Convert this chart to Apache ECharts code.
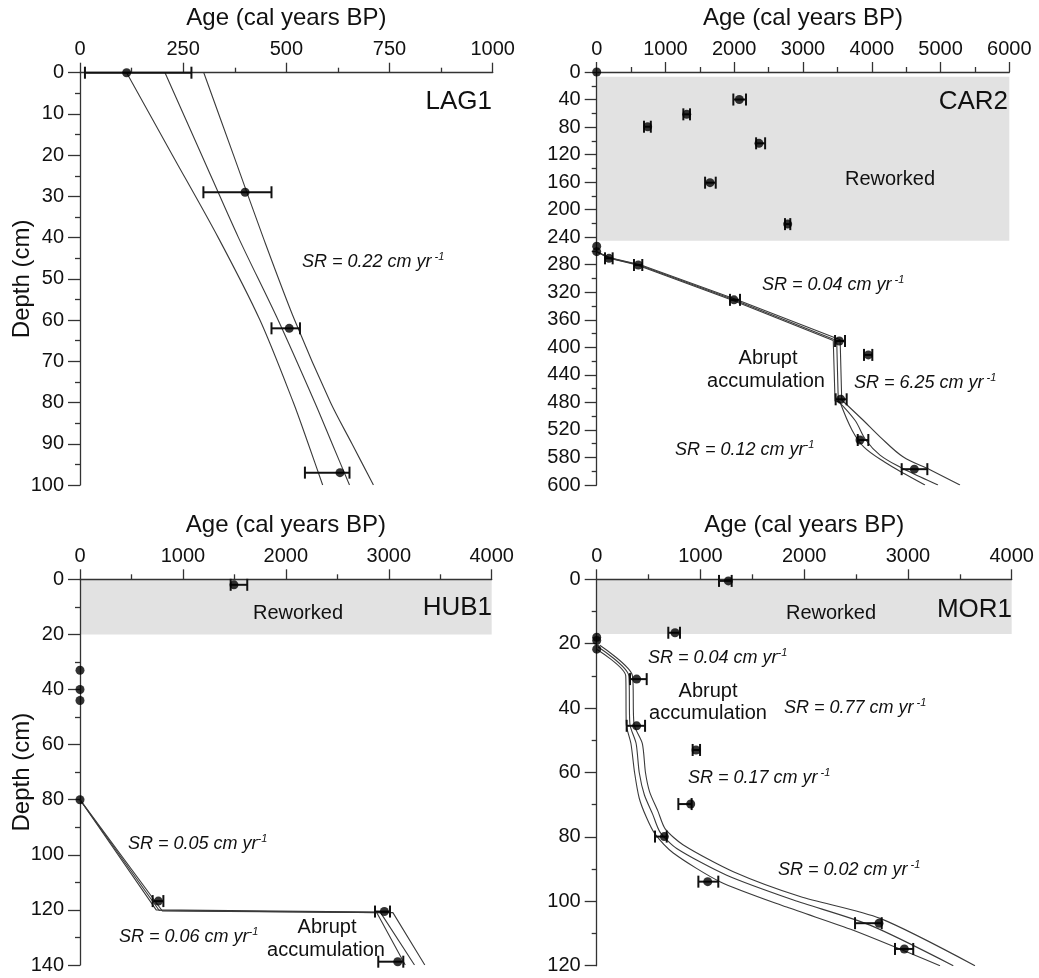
<!DOCTYPE html>
<html>
<head>
<meta charset="utf-8">
<script src="https://cdn.jsdelivr.net/npm/echarts@6/dist/echarts.min.js"></script>
<style>
html,body{margin:0;padding:0;background:#fff;}
#chart{width:1039px;height:978px;}
</style>
</head>
<body>
<div id="chart"></div>
<script>
// ---------------- DATA ----------------
// LAG1
const lag1Age   = [113, 400, 507, 630];
const lag1Depth = [0, 29, 62, 97];
const lag1Lo    = [12, 299, 464, 545];
const lag1Hi    = [270, 464, 533, 653];
const lag1ModelDepth = [0, 20, 40, 60, 80, 90, 100];
const lag1ModelA = [113, 224, 335, 436, 517, 553, 588];
const lag1ModelB = [206, 295, 384, 480, 569, 611, 653];
const lag1ModelC = [300, 372, 444, 520, 607, 659, 711];

// CAR2
const car2Age   = [0, 2074, 1309, 741, 2360, 1648, 2777, 0, 0, 179, 605, 1996, 3528, 3950, 3548, 3829, 4619];
const car2Depth = [0, 40, 61.5, 79.5, 103.6, 160.8, 221, 253, 261, 270.7, 280.4, 331, 390.8, 411, 475.5, 534.6, 577];
const car2Lo    = [null, 1987, 1260, 688, 2318, 1576, 2738, null, null, 121, 542, 1938, 3466, 3887, 3475, 3796, 4435];
const car2Hi    = [null, 2171, 1357, 787, 2449, 1731, 2815, null, null, 232, 663, 2084, 3611, 4008, 3635, 3950, 4808];
// age-model: upper part (incl. abrupt vertical step) and lower curved part
const car2UpperADepth = [261, 270, 280, 331, 390, 392, 478, 479.4];
const car2UpperAAge   = [0, 165, 575, 1955, 3440, 3466, 3466, 3538];
const car2UpperBDepth = [261, 270, 280, 331, 390, 392, 478];
const car2UpperBAge   = [0, 179, 605, 1996, 3490, 3513, 3513];
const car2UpperCDepth = [261, 270, 280, 331, 389, 391, 476.5];
const car2UpperCAge   = [0, 195, 635, 2040, 3540, 3563, 3563];
const car2LowerADepth = [479.4, 520, 545, 567, 584, 600];
const car2LowerAAge   = [3538, 3712, 3887, 4191, 4483, 4774];
const car2LowerBDepth = [478, 506, 535, 556.5, 574, 588, 600];
const car2LowerBAge   = [3513, 3756, 3916, 4120, 4410, 4701, 4963];
const car2LowerCDepth = [476.5, 505.6, 530, 559, 578, 600];
const car2LowerCAge   = [3563, 3872, 4120, 4454, 4847, 5283];
const car2Reworked = [7, 245];
const car2TickLabels = ['0','40','80','120','160','200','240','280','320','360','400','440','480','520','580','600'];

// HUB1
const hub1Age   = [1496, 0, 0, 0, 0, 761, 2957, 3087];
const hub1Depth = [2, 33, 40, 44, 80, 116.8, 120.6, 138.8];
const hub1Lo    = [1464, null, null, null, null, 706, 2866, 2898];
const hub1Hi    = [1625, null, null, null, null, 810, 3012, 3141];
const hub1ModelADepth = [80, 120, 120.8, 140];
const hub1ModelAAge   = [0, 740, 2880, 3160];
const hub1ModelBDepth = [80, 120.2, 121, 140];
const hub1ModelBAge   = [0, 770, 2920, 3250];
const hub1ModelCDepth = [80, 120.4, 121, 140];
const hub1ModelCAge   = [0, 800, 3040, 3350];
const hub1Reworked = [0, 20];

// MOR1
const mor1Age   = [1269, 755, 0, 0, 0, 385, 385, 957, 906, 652, 1070, 2721, 2965];
const mor1Depth = [0.5, 16.6, 18, 19, 21.7, 31, 45.5, 53, 69.8, 79.9, 93.9, 106.8, 114.8];
const mor1Lo    = [1179, 690, null, null, null, 321, 289, 925, 787, 562, 980, 2490, 2875];
const mor1Hi    = [1301, 803, null, null, null, 482, 466, 996, 915, 675, 1172, 2747, 3051];
const mor1ModelADepth = [21.7, 30, 45, 51, 60, 68, 74, 79, 85, 93.9, 101.8, 109, 120];
const mor1ModelAAge   = [0, 280, 285, 330, 365, 410, 480, 560, 738, 1188, 1831, 2473, 3309];
const mor1ModelBDepth = [21, 30, 45, 51, 60, 67, 73, 78.5, 83.6, 91.9, 99.6, 107.4, 120];
const mor1ModelBAge   = [15, 310, 320, 380, 410, 460, 540, 610, 771, 1253, 1896, 2634, 3437];
const mor1ModelCDepth = [20.5, 30, 45, 51, 60, 66, 72, 77.5, 82.5, 90.8, 98.5, 105.3, 120];
const mor1ModelCAge   = [30, 345, 360, 440, 470, 510, 590, 660, 835, 1317, 1960, 2731, 3646];
const mor1Reworked = [0, 17];

// ---------------- HELPERS ----------------
const FONT = '"Liberation Sans", Arial, Helvetica, sans-serif';
const AX = '#333';
const TICK_FS = 20;
const zip = (a, b) => a.map((v, i) => [v, b[i]]);

function xAxisCfg(gridIndex, max, interval) {
  return {
    type: 'value', gridIndex, position: 'top', min: 0, max, interval,
    name: 'Age (cal years BP)', nameLocation: 'middle', nameGap: 42, nameMoveOverlap: false,
    nameTextStyle: { fontSize: 24, color: '#111', fontFamily: FONT },
    axisLine: { show: true, onZero: false, lineStyle: { color: AX, width: 1.3 } },
    axisTick: { show: true, length: 10, lineStyle: { color: AX, width: 1.3 } },
    minorTick: { show: true, splitNumber: 2, length: 5, lineStyle: { color: AX, width: 1.3 } },
    axisLabel: { fontSize: TICK_FS, color: '#111', margin: 13, fontFamily: FONT, formatter: v => String(v) },
    splitLine: { show: false }, minorSplitLine: { show: false }
  };
}
function yAxisCfg(gridIndex, max, interval, showName, labels) {
  const c = {
    type: 'value', gridIndex, inverse: true, min: 0, max, interval,
    axisLine: { show: true, onZero: false, lineStyle: { color: AX, width: 1.3 } },
    axisTick: { show: true, length: 12, lineStyle: { color: AX, width: 1.3 } },
    minorTick: { show: true, splitNumber: 2, length: 5, lineStyle: { color: AX, width: 1.3 } },
    axisLabel: { fontSize: TICK_FS, color: '#111', margin: 16, fontFamily: FONT,
                 formatter: labels ? (v => labels[Math.round(v / interval)]) : (v => String(v)) },
    splitLine: { show: false }, minorSplitLine: { show: false }
  };
  if (showName) {
    c.name = 'Depth (cm)'; c.nameLocation = 'middle'; c.nameGap = 46; c.nameMoveOverlap = false;
    c.nameTextStyle = { fontSize: 24, color: '#111', fontFamily: FONT };
  }
  return c;
}
function modelLine(gi, ages, depths, smooth) {
  return {
    type: 'line', xAxisIndex: gi, yAxisIndex: gi, data: zip(ages, depths),
    showSymbol: false, symbol: 'none', smooth: smooth || false, z: 2, silent: true,
    lineStyle: { color: '#3a3a3a', width: 1.1 }
  };
}
function dots(gi, ages, depths) {
  return {
    type: 'scatter', xAxisIndex: gi, yAxisIndex: gi, data: zip(ages, depths),
    symbol: 'circle', symbolSize: 9, itemStyle: { color: '#000' }, z: 4, silent: true, clip: false
  };
}
function errBars(gi, ages, depths, lo, hi) {
  const data = [];
  ages.forEach((a, i) => { if (lo[i] != null) data.push([a, depths[i], lo[i], hi[i]]); });
  return {
    type: 'custom', xAxisIndex: gi, yAxisIndex: gi, data, z: 3, silent: true, clip: false,
    encode: { x: [0, 2, 3], y: 1 },
    renderItem: (params, api) => {
      const p1 = api.coord([api.value(2), api.value(1)]);
      const p2 = api.coord([api.value(3), api.value(1)]);
      const h = 6;
      const st = { stroke: '#111', lineWidth: 2 };
      return { type: 'group', children: [
        { type: 'line', shape: { x1: p1[0], y1: p1[1], x2: p2[0], y2: p2[1] }, style: st },
        { type: 'line', shape: { x1: p1[0], y1: p1[1] - h, x2: p1[0], y2: p1[1] + h }, style: st },
        { type: 'line', shape: { x1: p2[0], y1: p2[1] - h, x2: p2[0], y2: p2[1] + h }, style: st }
      ]};
    }
  };
}
function reworked(gi, xmax, band) {
  return {
    type: 'custom', xAxisIndex: gi, yAxisIndex: gi, data: [[0, band[0], xmax, band[1]]], z: 0, silent: true,
    renderItem: (params, api) => {
      const a = api.coord([api.value(0), api.value(1)]);
      const b = api.coord([api.value(2), api.value(3)]);
      return { type: 'rect', shape: { x: a[0], y: a[1], width: b[0] - a[0], height: b[1] - a[1] },
               style: { fill: '#e2e2e2' } };
    }
  };
}
function txt(x, y, text, size, align) {
  return { type: 'text', x, y, z: 10, silent: true,
    style: { text, fontSize: size, fontFamily: FONT, fill: '#111', align: align || 'center', verticalAlign: 'middle' } };
}
function sr(x, y, val, spaced) {
  return { type: 'text', x, y, z: 10, silent: true,
    style: { text: '{m|SR = ' + val + ' cm yr}{s|-1}', align: 'left', verticalAlign: 'middle', fill: '#111',
      rich: {
        m: { fontSize: 18, fontStyle: 'italic', fontFamily: FONT, fill: '#111', lineHeight: 22 },
        s: { fontSize: 11, fontStyle: 'italic', fontFamily: FONT, fill: '#111', lineHeight: 11, verticalAlign: 'top',
             padding: [0, 0, 0, spaced ? 3 : 0] }
      } } };
}

// ---------------- OPTION ----------------
const option = {
  backgroundColor: '#fff',
  animation: false,
  grid: [
    { left: 80,    top: 72.7,  width: 412.7, height: 412.3 },
    { left: 596.7, top: 72,    width: 412.6, height: 413 },
    { left: 80,    top: 579.3, width: 411.7, height: 385.7 },
    { left: 596.7, top: 579.3, width: 415,   height: 386.4 }
  ],
  xAxis: [
    xAxisCfg(0, 1000, 250),
    xAxisCfg(1, 6000, 1000),
    xAxisCfg(2, 4000, 1000),
    xAxisCfg(3, 4000, 1000)
  ],
  yAxis: [
    yAxisCfg(0, 100, 10, true),
    yAxisCfg(1, 600, 40, false, car2TickLabels),
    yAxisCfg(2, 140, 20, true),
    yAxisCfg(3, 120, 20, false)
  ],
  series: [
    // LAG1
    modelLine(0, lag1ModelA, lag1ModelDepth, 0.3),
    modelLine(0, lag1ModelB, lag1ModelDepth, 0.3),
    modelLine(0, lag1ModelC, lag1ModelDepth, 0.3),
    errBars(0, lag1Age, lag1Depth, lag1Lo, lag1Hi),
    dots(0, lag1Age, lag1Depth),
    // CAR2
    reworked(1, 6000, car2Reworked),
    modelLine(1, car2UpperAAge, car2UpperADepth),
    modelLine(1, car2UpperBAge, car2UpperBDepth),
    modelLine(1, car2UpperCAge, car2UpperCDepth),
    modelLine(1, car2LowerAAge, car2LowerADepth, 0.35),
    modelLine(1, car2LowerBAge, car2LowerBDepth, 0.35),
    modelLine(1, car2LowerCAge, car2LowerCDepth, 0.35),
    errBars(1, car2Age, car2Depth, car2Lo, car2Hi),
    dots(1, car2Age, car2Depth),
    // HUB1
    reworked(2, 4000, hub1Reworked),
    modelLine(2, hub1ModelAAge, hub1ModelADepth),
    modelLine(2, hub1ModelBAge, hub1ModelBDepth),
    modelLine(2, hub1ModelCAge, hub1ModelCDepth),
    errBars(2, hub1Age, hub1Depth, hub1Lo, hub1Hi),
    dots(2, hub1Age, hub1Depth),
    // MOR1
    reworked(3, 4000, mor1Reworked),
    modelLine(3, mor1ModelAAge, mor1ModelADepth, 0.25),
    modelLine(3, mor1ModelBAge, mor1ModelBDepth, 0.25),
    modelLine(3, mor1ModelCAge, mor1ModelCDepth, 0.25),
    errBars(3, mor1Age, mor1Depth, mor1Lo, mor1Hi),
    dots(3, mor1Age, mor1Depth)
  ],
  graphic: [
    // LAG1
    txt(492, 102, 'LAG1', 26, 'right'),
    sr(302, 262, '0.22', true),
    // CAR2
    txt(1008, 102, 'CAR2', 26, 'right'),
    txt(890, 179, 'Reworked', 20),
    sr(762, 285, '0.04', true),
    txt(768, 358, 'Abrupt', 20),
    txt(766, 381, 'accumulation', 20),
    sr(854, 383, '6.25', true),
    sr(675, 450, '0.12', false),
    // HUB1
    txt(492, 608, 'HUB1', 26, 'right'),
    txt(298, 613, 'Reworked', 20),
    sr(128, 844, '0.05', false),
    sr(119, 937, '0.06', false),
    txt(327, 927, 'Abrupt', 20),
    txt(326, 950, 'accumulation', 20),
    // MOR1
    txt(1012, 610, 'MOR1', 26, 'right'),
    txt(831, 613, 'Reworked', 20),
    sr(648, 658, '0.04', false),
    txt(708, 691, 'Abrupt', 20),
    txt(708, 713, 'accumulation', 20),
    sr(784, 708, '0.77', true),
    sr(688, 778, '0.17', true),
    sr(778, 870, '0.02', true)
  ]
};

const chart = echarts.init(document.getElementById('chart'), null, { renderer: 'canvas' });
chart.setOption(option);
</script>
</body>
</html>
